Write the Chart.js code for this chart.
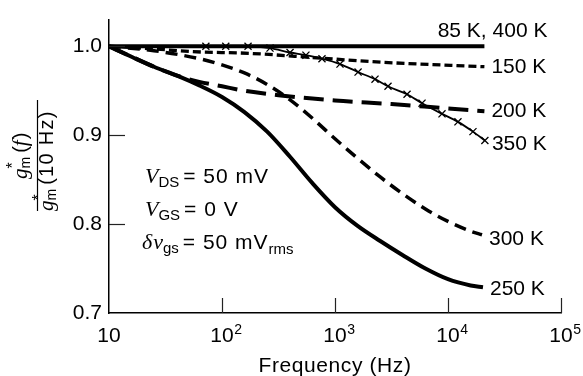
<!DOCTYPE html>
<html><head><meta charset="utf-8">
<script src="https://cdn.jsdelivr.net/npm/chart.js@4.4.0/dist/chart.umd.min.js"></script>
<style>html,body{margin:0;padding:0;background:#fff;}canvas{display:block;}</style>
</head><body>
<canvas id="c" width="583" height="376"></canvas>
<script>
// ---- data ----
const freq85_400 = [10, 21000];
const val85_400  = [1.0, 1.0];
const freq150 = [10, 25, 54, 177, 690, 2660, 21000];
const val150  = [1.0, 0.997, 0.994, 0.992, 0.987, 0.982, 0.977];
const freq200 = [10, 16, 25, 40, 63, 100, 158, 316, 1000, 3162, 10000, 21000];
const val200  = [1.0, 0.988, 0.977, 0.967, 0.960, 0.955, 0.950, 0.945, 0.939, 0.935, 0.930, 0.927];
const freq250 = [10, 16, 25, 40, 63, 100, 158, 251, 398, 631, 1000, 1585, 2512, 3981, 6310, 10000, 15850, 20400];
const val250  = [1.0, 0.988, 0.977, 0.967, 0.956, 0.943, 0.926, 0.904, 0.876, 0.846, 0.819, 0.798, 0.781, 0.765, 0.750, 0.738, 0.731, 0.729];
const freq300 = [10, 25, 63, 100, 158, 251, 398, 631, 1000, 1585, 2512, 3981, 6310, 10000, 15850, 20000];
const val300  = [1.0, 0.995, 0.986, 0.979, 0.970, 0.957, 0.940, 0.919, 0.896, 0.874, 0.853, 0.834, 0.817, 0.803, 0.792, 0.788];
const freq350 = [10, 72, 108, 170, 266, 400, 553, 767, 1107, 1600, 2260, 2945, 4340, 5890, 8850, 12250, 16630, 21200];
const val350  = [1.0, 1.0, 1.0, 1.0, 0.998, 0.993, 0.990, 0.986, 0.980, 0.971, 0.963, 0.955, 0.946, 0.936, 0.924, 0.915, 0.904, 0.894];
const seriesLabels = ["85 K, 400 K", "150 K", "200 K", "250 K", "300 K", "350 K"];
const xTickValues = [10, 100, 1000, 10000, 100000];
const xTickBase = ["10", "10", "10", "10", "10"];
const xTickExp  = ["", "2", "3", "4", "5"];
const yTickValues = [0.7, 0.8, 0.9, 1.0];
const xTitle = "Frequency (Hz)";

const pts = (f, v) => f.map((x, i) => ({x: x, y: v[i]}));

const SANS = '"Liberation Sans", Arial, sans-serif';
const SERIF = '"Liberation Serif", "Times New Roman", serif';

function runs(ctx, x, y, parts) {
  let cx = x;
  for (const p of parts) {
    if (p.gap !== undefined) { cx += p.gap; continue; }
    ctx.font = p.font;
    try { ctx.letterSpacing = p.ls || '0px'; } catch (e) {}
    ctx.fillText(p.t, cx, y + (p.dy || 0));
    const w = ctx.measureText(p.t).width;
    if (!p.stay) cx += w;
  }
  try { ctx.letterSpacing = '0px'; } catch (e) {}
  return cx;
}

const decor = {
  id: 'decor',
  afterDraw(chart) {
    const ctx = chart.ctx;
    const xs = chart.scales.x, ys = chart.scales.y;
    const area = chart.chartArea;
    ctx.save();
    ctx.fillStyle = '#000';
    ctx.strokeStyle = '#222';
    // inward ticks
    ctx.lineWidth = 1.2;
    xTickValues.forEach(v => {
      if (v === xTickValues[0]) return;
      const px = Math.round(xs.getPixelForValue(v)) + 0.5;
      ctx.beginPath(); ctx.moveTo(px, area.bottom); ctx.lineTo(px, area.bottom - 15); ctx.stroke();
    });
    yTickValues.forEach(v => {
      if (v === yTickValues[0]) return;
      const py = Math.round(ys.getPixelForValue(v)) + 0.5;
      ctx.beginPath(); ctx.moveTo(area.left, py); ctx.lineTo(area.left + 16, py); ctx.stroke();
    });
    // x tick labels with exponents
    ctx.textBaseline = 'alphabetic';
    xTickValues.forEach((v, i) => {
      const px = xs.getPixelForValue(v);
      ctx.font = '21px ' + SANS;
      ctx.textAlign = 'center';
      ctx.fillText(xTickBase[i], px, 342);
      const w = ctx.measureText(xTickBase[i]).width;
      if (xTickExp[i]) {
        ctx.textAlign = 'left';
        ctx.font = '14px ' + SANS;
        ctx.fillText(xTickExp[i], px + w / 2 + 0.5, 334);
      }
    });
    // x title
    ctx.textAlign = 'center';
    ctx.font = '21px ' + SANS;
    try { ctx.letterSpacing = '0.6px'; } catch (e) {}
    ctx.fillText(xTitle, (area.left + area.right) / 2, 372);
    try { ctx.letterSpacing = '0px'; } catch (e) {}

    // series end labels
    ctx.font = '21px ' + SANS;
    chart.data.datasets.forEach((ds, i) => {
      const last = ds.data[ds.data.length - 1];
      const px = xs.getPixelForValue(last.x);
      const py = ys.getPixelForValue(last.y);
      if (i === 0) {
        ctx.textAlign = 'right'; ctx.textBaseline = 'alphabetic';
        ctx.fillText(seriesLabels[i], px + 63, py - 9);
      } else {
        ctx.textAlign = 'left'; ctx.textBaseline = 'middle';
        ctx.fillText(seriesLabels[i], px + 7, py + ds.labelDy);
      }
    });

    // annotation block
    ctx.textAlign = 'left'; ctx.textBaseline = 'alphabetic';
    const SI = 'italic 22px ' + SERIF, S = '21px ' + SANS, SB = '15px ' + SANS;
    runs(ctx, 145, 183, [{t:'V', font:SI}, {t:'DS', font:SB, dy:4}, {gap:4}, {t:'= 50 mV', font:S, ls:'1px'}]);
    runs(ctx, 145, 216, [{t:'V', font:SI}, {t:'GS', font:SB, dy:4}, {gap:4}, {t:'= 0 V', font:S, ls:'1px'}]);
    runs(ctx, 142, 249, [{t:'\u03B4', font:SI}, {gap:1}, {t:'v', font:SI}, {t:'gs', font:SB, dy:4}, {gap:4}, {t:'= 50 mV', font:S, ls:'1px'}, {t:'rms', font:SB, dy:5}]);

    // y title: fraction, rotated
    ctx.save();
    ctx.rotate(-Math.PI / 2);
    // local coords: u = -screenY, v = screenX
    const GI = 'italic 21px ' + SERIF, SM = '14px ' + SANS, ST = '16px ' + SANS;
    // numerator
    runs(ctx, -179, 27, [{t:'g', font:GI}, {t:'*', font:ST, dy:-9, stay:true}, {t:'m', font:SM, dy:3}, {gap:4}, {t:'(', font:'20px ' + SANS}, {t:'f', font:GI}, {gap:1}, {t:')', font:'20px ' + SANS}]);
    // denominator
    runs(ctx, -211, 53, [{t:'g', font:GI}, {t:'*', font:ST, dy:-9, stay:true}, {t:'m', font:SM, dy:3}, {gap:4}, {t:'(10 Hz)', font:'20px ' + SANS, ls:'1.3px'}]);
    ctx.restore();
    ctx.strokeStyle = '#000';
    ctx.lineWidth = 1.2;
    ctx.beginPath(); ctx.moveTo(37.5, 100); ctx.lineTo(37.5, 211); ctx.stroke();
    ctx.restore();
  }
};

const base = {fill: false, borderColor: '#000', pointRadius: 0, cubicInterpolationMode: 'monotone', borderCapStyle: 'butt'};

new Chart(document.getElementById('c'), {
  type: 'line',
  data: {
    datasets: [
      Object.assign({}, base, {label: seriesLabels[0], data: pts(freq85_400, val85_400), borderWidth: 4, labelDy: 0}),
      Object.assign({}, base, {label: seriesLabels[1], data: pts(freq150, val150), borderWidth: 3.3, borderDash: [8, 4], labelDy: 0}),
      Object.assign({}, base, {label: seriesLabels[2], data: pts(freq200, val200), borderWidth: 4, borderDash: [20, 9], labelDy: 0}),
      Object.assign({}, base, {label: seriesLabels[3], data: pts(freq250, val250), borderWidth: 4, labelDy: 2}),
      Object.assign({}, base, {label: seriesLabels[4], data: pts(freq300, val300), borderWidth: 3.5, borderDash: [12, 7], labelDy: 4}),
      Object.assign({}, base, {label: seriesLabels[5], data: pts(freq350, val350), borderWidth: 1.8,
        pointStyle: 'crossRot', pointRadius: freq350.map((f, i) => i === 0 ? 0 : 5),
        pointBorderColor: '#000', pointBorderWidth: 1.3, labelDy: 4})
    ]
  },
  options: {
    responsive: false,
    animation: false,
    devicePixelRatio: 1,
    layout: {padding: {top: 14, right: 22, left: 0, bottom: 0}},
    plugins: {legend: {display: false}, tooltip: {enabled: false}},
    scales: {
      x: {
        type: 'logarithmic', min: 10, max: 100000,
        grid: {display: false},
        border: {display: true, color: '#000', width: 1.5},
        ticks: {display: false},
        afterBuildTicks: s => { s.ticks = xTickValues.map(v => ({value: v})); },
        afterFit: s => { s.height = 63; }
      },
      y: {
        type: 'linear', min: 0.7, max: 1.03,
        grid: {display: false, drawTicks: false},
        border: {display: true, color: '#000', width: 1.5},
        ticks: {color: '#000', font: {family: SANS, size: 21}, padding: 7,
          callback: v => Number(v).toFixed(1)},
        afterBuildTicks: s => { s.ticks = yTickValues.map(v => ({value: v})); },
        afterFit: s => { s.width = 109; }
      }
    }
  },
  plugins: [decor]
});
</script>
</body></html>
